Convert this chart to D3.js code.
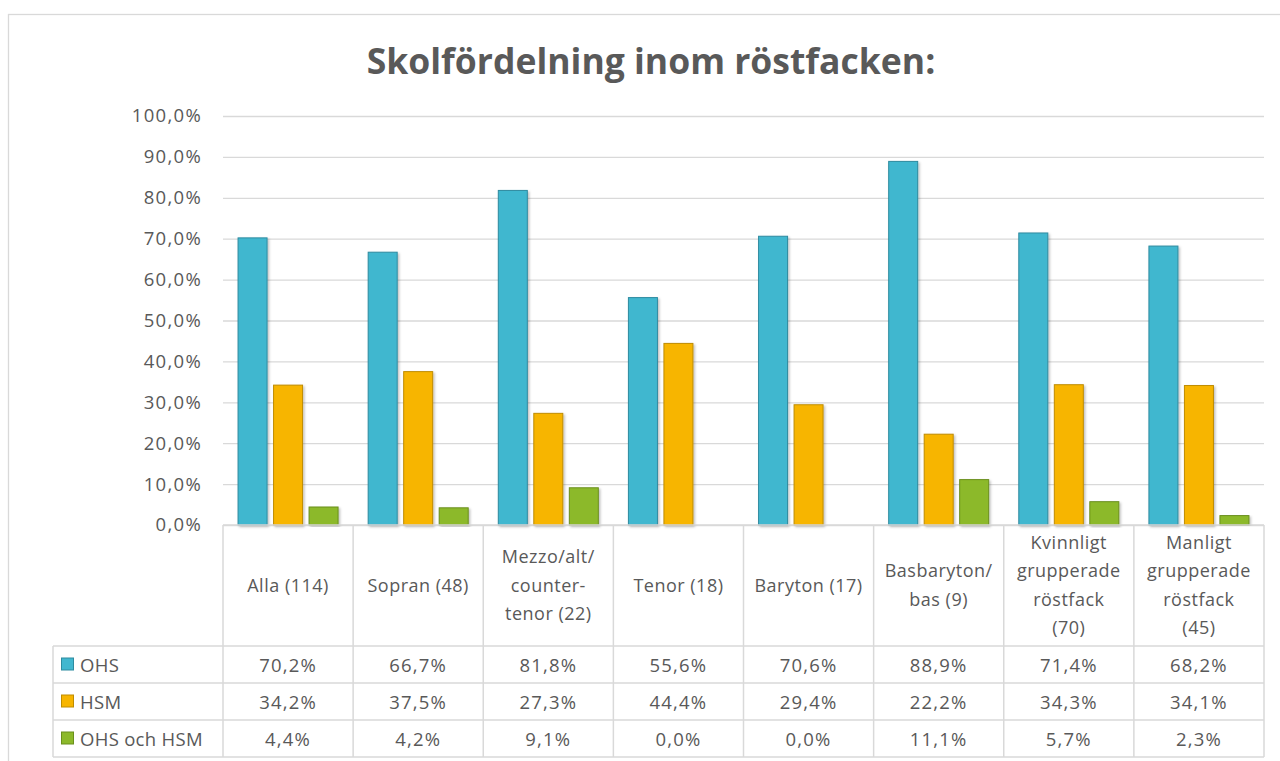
<!DOCTYPE html>
<html>
<head>
<meta charset="utf-8">
<script src="https://cdn.jsdelivr.net/npm/d3@7"></script>
<style>
  body { margin: 0; background: #fff; }
  text { font-family: "Open Sans", Lato, sans-serif; fill: #595959; }
</style>
</head>
<body>
<div id="chart"></div>
<script>
// categories (header lines of the data table)
var categories = ["Alla (114)", "Sopran (48)", "Mezzo/alt/counter-tenor (22)", "Tenor (18)",
                  "Baryton (17)", "Basbaryton/bas (9)", "Kvinnligt grupperade röstfack (70)",
                  "Manligt grupperade röstfack (45)"];
var headerLines = [["Alla (114)"], ["Sopran (48)"], ["Mezzo/alt/", "counter-", "tenor (22)"],
                   ["Tenor (18)"], ["Baryton (17)"], ["Basbaryton/", "bas (9)"],
                   ["Kvinnligt", "grupperade", "röstfack", "(70)"],
                   ["Manligt", "grupperade", "röstfack", "(45)"]];
var seriesNames = ["OHS", "HSM", "OHS och HSM"];
var ohs  = [70.2, 66.7, 81.8, 55.6, 70.6, 88.9, 71.4, 68.2];
var hsm  = [34.2, 37.5, 27.3, 44.4, 29.4, 22.2, 34.3, 34.1];
var both = [4.4, 4.2, 9.1, 0.0, 0.0, 11.1, 5.7, 2.3];
var yTicks = [0, 10, 20, 30, 40, 50, 60, 70, 80, 90, 100];

var seriesValues = [ohs, hsm, both];
var fills   = ["#41b7cf", "#f7b500", "#8cb92a"];
var strokes = ["#2e8ba0", "#bf8c00", "#6a8f1c"];

var W = 1280, H = 761;
var plotLeft = 223, plotRight = 1264, plotTop = 116, plotBottom = 525;
var legendLeft = 53;
var headerBottom = 646, rowH = 37;

function pct(d) { return d.toFixed(1).replace(".", ",") + "%"; }

var svg = d3.select("#chart").append("svg")
  .attr("width", W).attr("height", H);

var defs = svg.append("defs");
var f = defs.append("filter").attr("id", "shadow")
  .attr("x", "-20%").attr("y", "-5%").attr("width", "150%").attr("height", "115%");
f.append("feDropShadow").attr("dx", 1.5).attr("dy", 1.5).attr("stdDeviation", 1.2)
  .attr("flood-color", "#000").attr("flood-opacity", 0.25);

// outer chart frame
svg.append("rect")
  .attr("x", 8.5).attr("y", 14.5).attr("width", W + 10).attr("height", H + 10)
  .attr("fill", "none").attr("stroke", "#d9d9d9").attr("stroke-width", 1.3);

// title
svg.append("text")
  .attr("x", 651).attr("y", 74)
  .attr("text-anchor", "middle")
  .style("font-size", "35.5px").style("font-weight", "bold")
  .style("fill", "#595959")
  .text("Skolfördelning inom röstfacken:");

var y = d3.scaleLinear().domain([0, 100]).range([plotBottom, plotTop]);
var x = d3.scaleBand().domain(categories).range([plotLeft, plotRight]).padding(0);
var xs = d3.scaleBand().domain(seriesNames).range([0, x.bandwidth()])
  .paddingInner(0.183).paddingOuter(0.424);

// gridlines
svg.append("g").selectAll("line").data(yTicks).enter().append("line")
  .attr("x1", plotLeft).attr("x2", plotRight)
  .attr("y1", function(d) { return y(d) + 0.5; })
  .attr("y2", function(d) { return y(d) + 0.5; })
  .attr("stroke", "#d9d9d9").attr("stroke-width", 1.3);

// y axis labels
var yAxis = d3.axisLeft(y).tickValues(yTicks).tickSize(0).tickPadding(0)
  .tickFormat(pct);
var ya = svg.append("g").attr("transform", "translate(" + 202 + ",0)").call(yAxis);
ya.select(".domain").remove();
ya.selectAll("text").style("font-size", "18.5px").style("fill", "#595959")
  .style("letter-spacing", "1.3px")
  .style("font-family", "'Open Sans', sans-serif");

// bars
seriesNames.forEach(function(s, si) {
  svg.append("g").selectAll("rect").data(seriesValues[si]).enter().append("rect")
    .attr("x", function(d, i) { return x(categories[i]) + xs(s); })
    .attr("y", function(d) { return y(d); })
    .attr("width", xs.bandwidth())
    .attr("height", function(d) { return plotBottom - y(d); })
    .attr("fill", fills[si])
    .attr("stroke", strokes[si]).attr("stroke-width", 1)
    .attr("filter", "url(#shadow)")
    .style("display", function(d) { return d > 0 ? null : "none"; });
});

// data table
var grid = svg.append("g").attr("stroke", "#d9d9d9").attr("stroke-width", 1.5);
var tableBottom = headerBottom + rowH * 3;
// vertical lines in header + rows
d3.range(categories.length + 1).forEach(function(i) {
  var xx = plotLeft + i * x.step();
  grid.append("line").attr("x1", xx).attr("x2", xx)
    .attr("y1", plotBottom).attr("y2", tableBottom);
});
grid.append("line").attr("x1", legendLeft).attr("x2", legendLeft)
  .attr("y1", headerBottom).attr("y2", tableBottom);
d3.range(4).forEach(function(r) {
  var yy = headerBottom + r * rowH;
  grid.append("line").attr("x1", legendLeft).attr("x2", plotRight)
    .attr("y1", yy).attr("y2", yy);
});
grid.append("line").attr("x1", plotLeft).attr("x2", plotRight)
  .attr("y1", plotBottom).attr("y2", plotBottom);

// header labels
var lineH = 28.3;
headerLines.forEach(function(lines, i) {
  var cx = x(categories[i]) + x.bandwidth() / 2;
  var midY = (plotBottom + headerBottom) / 2 + 6;
  var t = svg.append("text").attr("text-anchor", "middle")
    .style("font-size", "18px").style("letter-spacing", "0.5px")
    .style("fill", "#595959");
  lines.forEach(function(l, k) {
    t.append("tspan").attr("x", cx)
      .attr("y", midY + (k - (lines.length - 1) / 2) * lineH)
      .text(l);
  });
});

// rows
seriesNames.forEach(function(s, si) {
  var rowMid = headerBottom + rowH * si + rowH / 2;
  svg.append("rect")
    .attr("x", 61.5).attr("y", rowMid - 6.5).attr("width", 12).attr("height", 12)
    .attr("fill", fills[si]).attr("stroke", strokes[si]);
  svg.append("text").attr("x", 80).attr("y", rowMid + 7)
    .style("font-size", "18.5px").style("letter-spacing", "0.3px")
    .style("fill", "#595959").text(s);
  svg.append("g").selectAll("text").data(seriesValues[si]).enter().append("text")
    .attr("x", function(d, i) { return x(categories[i]) + x.bandwidth() / 2; })
    .attr("y", rowMid + 7)
    .attr("text-anchor", "middle")
    .style("font-size", "18.5px").style("letter-spacing", "1.2px")
    .style("fill", "#595959")
    .text(pct);
});
</script>
</body>
</html>
